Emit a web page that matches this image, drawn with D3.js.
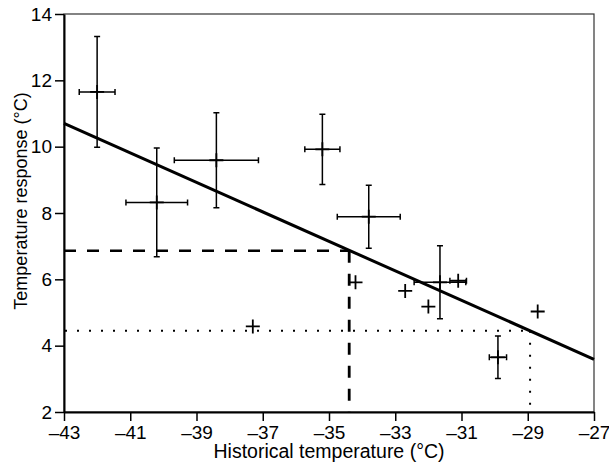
<!DOCTYPE html>
<html>
<head>
<meta charset="utf-8">
<script src="https://cdn.jsdelivr.net/npm/d3@7"></script>
<style>
  body { margin: 0; background: white; }
  svg text { font-family: "Liberation Sans", Arial, Helvetica, sans-serif; fill: black; }
</style>
</head>
<body>
<svg id="chart"></svg>
<script>
// data
const histTemp = [-42.0, -40.2, -38.4, -35.2, -33.8, -37.3, -34.2, -32.7, -32.0, -31.65, -31.1, -29.9, -28.7]
const response = [11.65, 8.32, 9.59, 9.92, 7.89, 4.58, 5.91, 5.65, 5.18, 5.91, 5.96, 3.65, 5.03]
const xErr = [0.54, 0.93, 1.27, 0.53, 0.95, 0, 0, 0, 0, 0.78, 0.25, 0.26, 0]
const yErr = [1.67, 1.64, 1.43, 1.06, 0.95, 0, 0, 0, 0, 1.1, 0, 0.64, 0]

// regression line end points
const fitX = [-43, -27]
const fitY = [10.70, 3.59]

// guide lines (dashed / dotted)
const dashedAt = {x: -34.39, y: 6.86}
const dottedAt = {x: -28.93, y: 4.45}

const xTicks = [-43, -41, -39, -37, -35, -33, -31, -29, -27]
const yTicks = [2, 4, 6, 8, 10, 12, 14]

const W = 609, H = 462
const mLeft = 64, mRight = 594, mTop = 14, mBottom = 412

const svg = d3.select("svg#chart")
              .attr("width", W)
              .attr("height", H)

const x = d3.scaleLinear().domain([-43, -27]).range([mLeft, mRight])
const y = d3.scaleLinear().domain([2, 14]).range([mBottom, mTop])

// thin frame (top and right)
svg.append("rect")
   .attr("x", mLeft)
   .attr("y", mTop)
   .attr("width", mRight - mLeft)
   .attr("height", mBottom - mTop)
   .attr("fill", "none")
   .attr("stroke", "#333")
   .attr("stroke-width", 1.2)

// axes
const fmt = d => (d < 0 ? "\u2013" + Math.abs(d) : "" + d)

const xAxis = svg.append("g")
   .attr("transform", `translate(0,${mBottom})`)
   .call(d3.axisBottom(x).tickValues(xTicks).tickFormat(fmt).tickSize(9).tickPadding(5).tickSizeOuter(0))

const yAxis = svg.append("g")
   .attr("transform", `translate(${mLeft},0)`)
   .call(d3.axisLeft(y).tickValues(yTicks).tickSize(9).tickPadding(3).tickSizeOuter(0))

;[xAxis, yAxis].forEach(a => {
  a.select(".domain").attr("stroke", "black").attr("stroke-width", 2)
  a.selectAll(".tick line").attr("stroke", "black").attr("stroke-width", 1.5)
  a.selectAll(".tick text").attr("font-size", 19).attr("font-family", "Liberation Sans, Arial, sans-serif")
})

// dashed guide
svg.append("path")
   .attr("d", `M${mLeft},${y(dashedAt.y)}H${x(dashedAt.x)}`)
   .attr("stroke", "black")
   .attr("stroke-width", 2.5)
   .attr("stroke-dasharray", "12,11")
   .attr("fill", "none")
svg.append("path")
   .attr("d", `M${x(dashedAt.x)},${y(dashedAt.y)}V${mBottom}`)
   .attr("stroke", "black")
   .attr("stroke-width", 2.8)
   .attr("stroke-dasharray", "12,11")
   .attr("fill", "none")

// dotted guide
svg.append("path")
   .attr("d", `M${mLeft + 1},${y(dottedAt.y)}H${x(dottedAt.x)}`)
   .attr("stroke", "black")
   .attr("stroke-width", 2)
   .attr("stroke-dasharray", "2,10")
   .attr("fill", "none")
svg.append("path")
   .attr("d", `M${x(dottedAt.x)},${y(dottedAt.y)}V${mBottom}`)
   .attr("stroke", "black")
   .attr("stroke-width", 2)
   .attr("stroke-dasharray", "2,10")
   .attr("fill", "none")

// regression line
svg.append("line")
   .attr("x1", x(fitX[0]))
   .attr("y1", y(fitY[0]))
   .attr("x2", x(fitX[1]))
   .attr("y2", y(fitY[1]))
   .attr("stroke", "black")
   .attr("stroke-width", 3)

// points with error bars
const cap = 3, arm = 7
const pts = svg.append("g").attr("stroke", "black").attr("fill", "none")

histTemp.forEach((t, i) => {
  const cx = x(t), cy = y(response[i])
  if (xErr[i] > 0) {
    const x0 = x(t - xErr[i]), x1 = x(t + xErr[i])
    pts.append("path")
       .attr("d", `M${x0},${cy}H${x1}M${x0},${cy - cap}V${cy + cap}M${x1},${cy - cap}V${cy + cap}`)
       .attr("stroke-width", 1.5)
  }
  if (yErr[i] > 0) {
    const y0 = y(response[i] - yErr[i]), y1 = y(response[i] + yErr[i])
    pts.append("path")
       .attr("d", `M${cx},${y0}V${y1}M${cx - cap},${y0}H${cx + cap}M${cx - cap},${y1}H${cx + cap}`)
       .attr("stroke-width", 1.5)
  }
  // plus marker
  pts.append("path")
     .attr("d", `M${cx - arm},${cy}H${cx + arm}M${cx},${cy - arm}V${cy + arm}`)
     .attr("stroke-width", 1.8)
})

// axis titles
svg.append("text")
   .attr("x", (mLeft + mRight) / 2)
   .attr("y", 458)
   .attr("text-anchor", "middle")
   .attr("font-size", 19.5)
   .text("Historical temperature (°C)")

svg.append("text")
   .attr("transform", "translate(27,201) rotate(-90)")
   .attr("text-anchor", "middle")
   .attr("font-size", 18)
   .text("Temperature response (°C)")
</script>
</body>
</html>
